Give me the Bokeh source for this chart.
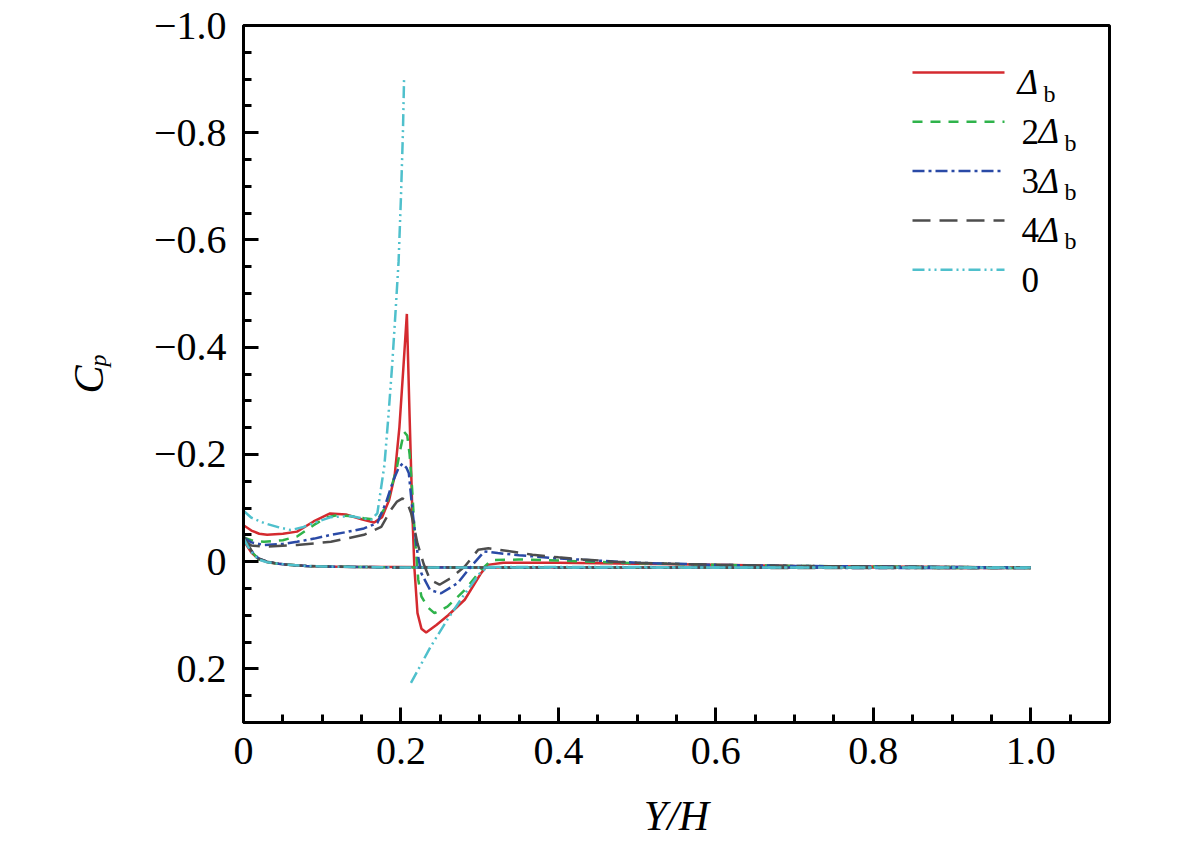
import numpy as np
from bokeh.plotting import figure
from bokeh.models import Range1d, FixedTicker, Label
from bokeh.embed import file_html
from bokeh.resources import INLINE

# ---------------- data ----------------
red_up_x = [0, 0.01, 0.02, 0.03, 0.05, 0.068, 0.089, 0.11, 0.13, 0.15, 0.166, 0.176, 0.185, 0.192,
            0.198, 0.203, 0.2075, 0.211, 0.2145, 0.217, 0.221, 0.226, 0.232, 0.245, 0.26, 0.281,
            0.302, 0.31, 0.33, 0.40, 0.50, 0.60, 0.70, 0.80, 0.90, 1.0]
red_up_cp = [-0.068, -0.058, -0.052, -0.050, -0.052, -0.056, -0.075, -0.090, -0.088, -0.079, -0.073,
             -0.083, -0.115, -0.16, -0.25, -0.36, -0.462, -0.27, -0.09, 0.01, 0.096, 0.125, 0.132,
             0.118, 0.100, 0.071, 0.021, 0.006, 0.002, 0.002, 0.004, 0.006, 0.008, 0.009, 0.010, 0.011]

green_up_x = [0, 0.01, 0.026, 0.05, 0.068, 0.089, 0.105, 0.119, 0.135, 0.153, 0.170, 0.181, 0.19,
              0.195, 0.200, 0.204, 0.208, 0.211, 0.214, 0.218, 0.222, 0.226, 0.234, 0.2425, 0.259,
              0.281, 0.302, 0.315, 0.35, 0.40, 0.50, 0.60, 0.70, 0.80, 0.90, 1.0]
green_up_cp = [-0.045, -0.040, -0.037, -0.040, -0.047, -0.068, -0.082, -0.087, -0.085, -0.081,
               -0.078, -0.103, -0.15, -0.177, -0.215, -0.242, -0.235, -0.20, -0.14, -0.04, 0.034,
               0.065, 0.085, 0.096, 0.084, 0.053, 0.015, -0.003, -0.004, -0.002, 0.003, 0.006,
               0.008, 0.009, 0.010, 0.011]

blue_up_x = [0, 0.01, 0.026, 0.05, 0.068, 0.09, 0.111, 0.13, 0.153, 0.170, 0.181, 0.19, 0.197,
             0.202, 0.207, 0.21, 0.215, 0.221, 0.226, 0.237, 0.251, 0.272, 0.289, 0.306, 0.323,
             0.35, 0.40, 0.45, 0.50, 0.60, 0.70, 0.80, 0.90, 1.0]
blue_up_cp = [-0.045, -0.036, -0.031, -0.033, -0.037, -0.043, -0.050, -0.055, -0.062, -0.072,
              -0.11, -0.15, -0.175, -0.183, -0.175, -0.165, -0.09, -0.016, 0.022, 0.053, 0.059,
              0.040, 0.009, -0.019, -0.016, -0.012, -0.006, -0.002, 0.002, 0.006, 0.008, 0.009,
              0.010, 0.011]

grey_up_x = [0, 0.01, 0.026, 0.068, 0.111, 0.153, 0.175, 0.187, 0.195, 0.202, 0.208, 0.213, 0.221,
             0.229, 0.237, 0.249, 0.263, 0.281, 0.298, 0.311, 0.34, 0.367, 0.40, 0.431, 0.47,
             0.50, 0.60, 0.70, 0.80, 0.90, 1.0]
grey_up_cp = [-0.040, -0.030, -0.028, -0.031, -0.037, -0.050, -0.065, -0.096, -0.112, -0.118,
              -0.110, -0.09, -0.034, 0.005, 0.034, 0.043, 0.031, 0.009, -0.022, -0.025, -0.019,
              -0.013, -0.008, -0.004, 0.0, 0.002, 0.006, 0.008, 0.009, 0.010, 0.011]

cyan_up_x = [0, 0.01, 0.026, 0.045, 0.060, 0.075, 0.089, 0.111, 0.136, 0.162, 0.170, 0.179, 0.184,
             0.189, 0.193, 0.197, 0.200, 0.2025, 0.204, float("nan"), 0.2127, 0.238, 0.259, 0.28,
             0.30, 0.31, 0.33, 0.40, 0.50, 0.60, 0.70, 0.80, 0.90, 1.0]
cyan_up_cp = [-0.095, -0.082, -0.072, -0.064, -0.059, -0.064, -0.072, -0.083, -0.085, -0.078,
              -0.09, -0.18, -0.27, -0.37, -0.463, -0.56, -0.68, -0.80, -0.904, float("nan"), 0.226,
              0.158, 0.108, 0.062, 0.022, 0.010, 0.010, 0.010, 0.010, 0.011, 0.011, 0.011, 0.011,
              0.011]

low_x = [0, 0.005, 0.01, 0.019, 0.03, 0.045, 0.057, 0.08, 0.1, 0.15, 0.2, 0.3, 0.4, 0.5, 0.6, 0.7,
         0.8, 0.9, 1.0]
red_low_cp = [-0.040, -0.028, -0.017, -0.005, 0.001, 0.004, 0.006, 0.008, 0.009, 0.010, 0.010,
              0.011, 0.011, 0.011, 0.011, 0.011, 0.011, 0.012, 0.012]
green_low_cp = [-0.044, -0.031, -0.019, -0.005, 0.001, 0.004, 0.006, 0.008, 0.009, 0.010, 0.011,
                0.011, 0.011, 0.011, 0.011, 0.011, 0.011, 0.012, 0.012]
blue_low_cp = [-0.046, -0.032, -0.020, -0.006, 0.000, 0.004, 0.006, 0.008, 0.009, 0.010, 0.011,
               0.011, 0.011, 0.011, 0.011, 0.011, 0.012, 0.012, 0.012]
grey_low_cp = [-0.048, -0.034, -0.021, -0.006, 0.000, 0.004, 0.006, 0.008, 0.009, 0.010, 0.011,
               0.011, 0.011, 0.011, 0.011, 0.012, 0.012, 0.012, 0.012]
cyan_low_cp = [-0.044, -0.030, -0.018, -0.004, 0.001, 0.004, 0.006, 0.008, 0.009, 0.010, 0.011,
               0.011, 0.011, 0.011, 0.011, 0.011, 0.011, 0.011, 0.012]

legend_nums = ["", "2", "3", "4", "0"]
legend_delta = [True, True, True, True, False]

x_ticks = [0, 0.2, 0.4, 0.6, 0.8, 1.0]
x_tick_labels = ["0", "0.2", "0.4", "0.6", "0.8", "1.0"]
y_ticks = [-1.0, -0.8, -0.6, -0.4, -0.2, 0, 0.2]
y_tick_labels = ["\u22121.0", "\u22120.8", "\u22120.6", "\u22120.4", "\u22120.2", "0", "0.2"]

# ---------------- styles ----------------
styles = [
    dict(color="#d42a2f", dash="solid"),
    dict(color="#2fb34b", dash="10 8"),
    dict(color="#2a4aa6", dash="12 4 3 4"),
    dict(color="#4d4d4d", dash="18 9"),
    dict(color="#4fc0cc", dash="12 4 2 4 2 4"),
]
series = [
    (red_up_x, red_up_cp, red_low_cp),
    (green_up_x, green_up_cp, green_low_cp),
    (blue_up_x, blue_up_cp, blue_low_cp),
    (grey_up_x, grey_up_cp, grey_low_cp),
    (cyan_up_x, cyan_up_cp, cyan_low_cp),
]

FL, FT, FW, FH = 243, 25, 866, 697
X0, X1 = 0.0, 1.1
YT, YB = -1.0, 0.3


def dx(px):
    return X0 + (px - FL) / FW * (X1 - X0)


def dy(py):
    return YT + (py - FT) / FH * (YB - YT)


p = figure(frame_width=FW, frame_height=FH,
           min_border_left=FL, min_border_right=64, min_border_top=FT, min_border_bottom=123,
           x_range=Range1d(X0, X1), y_range=Range1d(YB, YT),
           output_backend="svg", toolbar_location=None)
p.background_fill_color = "white"
p.border_fill_color = "white"
p.xgrid.visible = False
p.ygrid.visible = False
p.outline_line_color = "black"
p.outline_line_width = 3
p.outline_line_alpha = 1.0

x_minor = [v for v in np.round(np.arange(0, 1.1001, 0.05), 2) if v not in x_ticks]
y_minor = [v for v in np.round(np.arange(-1.0, 0.3001, 0.05), 2) if v not in y_ticks]
p.xaxis.ticker = FixedTicker(ticks=x_ticks, minor_ticks=x_minor)
p.yaxis.ticker = FixedTicker(ticks=y_ticks, minor_ticks=y_minor)
p.xaxis.major_label_overrides = dict(zip(x_ticks, x_tick_labels))
p.yaxis.major_label_overrides = dict(zip(y_ticks, y_tick_labels))

for ax in (p.xaxis[0], p.yaxis[0]):
    ax.axis_line_width = 3
    ax.axis_line_color = "black"
    ax.major_tick_line_width = 3
    ax.minor_tick_line_width = 3
    ax.major_tick_line_color = "black"
    ax.minor_tick_line_color = "black"
    ax.major_tick_in = 15
    ax.major_tick_out = 0
    ax.minor_tick_in = 8
    ax.minor_tick_out = 0
    ax.major_label_text_font = "Liberation Serif"
    ax.major_label_text_font_size = "40px"
    ax.major_label_text_color = "black"

p.xaxis.major_label_standoff = 15
p.yaxis.major_label_standoff = 17

# curves
for (ux, ucp, lcp), st in zip(series, styles):
    p.line(low_x, lcp, line_color=st["color"], line_width=2.5, line_dash=st["dash"])
    p.line(ux, ucp, line_color=st["color"], line_width=2.5, line_dash=st["dash"])

# axis titles (placed in side panels so they are not clipped)
p.add_layout(Label(x=dx(676), y=dy(815), text="Y/H", text_font="Liberation Serif",
                   text_font_style="italic", text_font_size="42px", text_baseline="alphabetic",
                   text_align="center", text_color="black"), "below")
p.add_layout(Label(x=dx(88), y=dy(393), text="C", angle=np.pi / 2, text_font="Liberation Serif",
                   text_font_style="italic", text_font_size="42px", text_baseline="alphabetic",
                   text_align="left", text_color="black"), "left")
p.add_layout(Label(x=dx(97), y=dy(366), text="p", angle=np.pi / 2, text_font="Liberation Serif",
                   text_font_style="italic", text_font_size="24px", text_baseline="alphabetic",
                   text_align="left", text_color="black"), "left")

# manual legend
leg_y0, leg_dy = 72, 49.3
for i, st in enumerate(styles):
    ly = leg_y0 + i * leg_dy
    p.line([dx(912), dx(1004)], [dy(ly), dy(ly)], line_color=st["color"], line_width=2.5,
           line_dash=st["dash"])
    base = ly + 10
    num = legend_nums[i]
    if num:
        p.add_layout(Label(x=dx(1021), y=dy(base), text=num, text_font="Liberation Serif",
                           text_font_size="35px", text_baseline="alphabetic", text_align="left",
                           text_color="black"))
    if legend_delta[i]:
        xd = 1038 if num else 1017
        xb = 1064 if num else 1043
        p.add_layout(Label(x=dx(xd), y=dy(base), text="\u0394", text_font="Liberation Serif",
                           text_font_style="italic", text_font_size="35px",
                           text_baseline="alphabetic", text_align="left", text_color="black"))
        p.add_layout(Label(x=dx(xb), y=dy(base + 11), text="b", text_font="Liberation Serif",
                           text_font_size="24px", text_baseline="alphabetic", text_align="left",
                           text_color="black"))

open("out.html", "w").write(file_html(p, INLINE))
